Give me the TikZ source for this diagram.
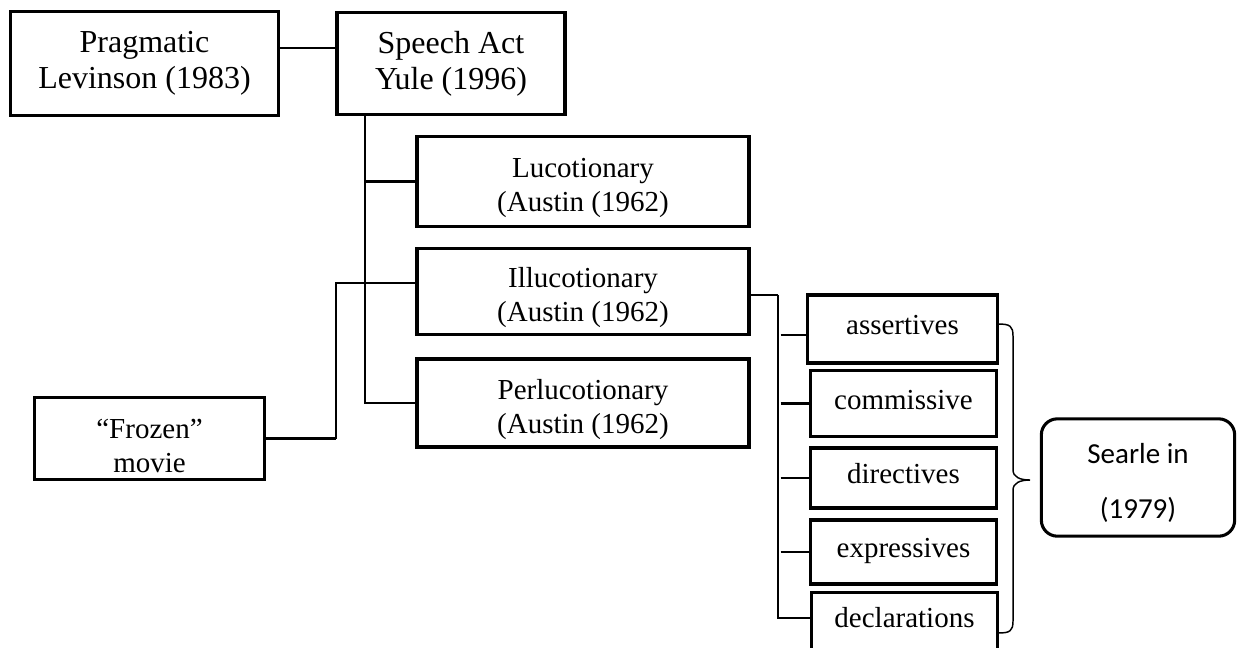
\documentclass[tikz,border=0pt]{standalone}
\usepackage{fontspec}
\setmainfont{Liberation Serif}
\newfontfamily\calibrifont{Carlito}
% strut that pushes the first line of a box down a little
\newcommand{\topstrut}[1]{\rule{0pt}{#1}}
\begin{document}
\begin{tikzpicture}[x=0.75pt, y=-0.75pt,
		bigbox/.style={draw, line width=2.3pt, inner sep=0pt, align=center, font=\fontsize{24}{27}\selectfont},
		actbox/.style={draw, line width=2.3pt, inner sep=0pt, align=center, minimum width=249pt,
			font=\fontsize{21.75}{25.5}\selectfont},
		typebox/.style={draw, line width=2.3pt, inner sep=0pt, align=center, text height=15pt, text depth=6.6pt,
			font=\fontsize{21.75}{25.5}\selectfont},
		thinline/.style={line width=1.1pt},
		trunk/.style={line width=1.4pt},
		branch/.style={line width=2.2pt}]
	\useasboundingbox (0,0) rectangle (1244,647);
	
	% top row
	\node[bigbox, minimum width=201pt, minimum height=78pt] (prag) at (144.5,63.5) {Pragmatic\\Levinson (1983)};
	\node[bigbox, minimum width=171pt, minimum height=77pt] (speech) at (451,63.5) {Speech Act\\Yule (1996)};
	
	% the three acts
	\node[actbox, minimum height=67pt] (luco) at (583,181.5) {\topstrut{24.5pt}Lucotionary\\(Austin (1962)};
	\node[actbox, minimum height=65pt] (illuco) at (583,291.5) {\topstrut{24.5pt}Illucotionary\\(Austin (1962)};
	\node[actbox, minimum height=66pt] (perluco) at (583,403) {\topstrut{24.5pt}Perlucotionary\\(Austin (1962)};
	
	\node[actbox, minimum width=172pt, minimum height=61pt] (frozen) at (149.5,438.5) {\topstrut{25.5pt}“Frozen”\\movie};
	
	% kinds of illocutionary acts
	\node[typebox, minimum width=142pt, minimum height=51pt] (assert) at (902.5,329) {assertives};
	\node[typebox, minimum width=140pt, minimum height=49pt] (commis) at (903.5,403.5) {commissive};
	\node[typebox, minimum width=140pt, minimum height=45pt] (direct) at (903.5,478) {directives};
	\node[typebox, minimum width=140pt, minimum height=48pt] (express) at (903.5,552) {expressives};
	\node[typebox, minimum width=139pt, minimum height=44pt] (declar) at (904.5,622) {declarations};
	
	\node[draw, line width=2.3pt, rounded corners=12pt, inner sep=0pt, align=center, minimum width=145pt, minimum height=88pt,
		font=\calibrifont\fontsize{21.75}{41.25}\selectfont] (searle) at (1138,477.5) {\topstrut{23.8pt}Searle in\\(1979)};
	
	% connectors
	\draw[thinline] ([yshift=11.6pt]prag.east) -- ([yshift=11.6pt]speech.west);
	
	\coordinate (trunktop) at ([xshift=22pt]speech.south west);
	\draw[trunk] (trunktop) |- (perluco.west);
	\draw[branch] (trunktop |- luco.west) -- (luco.west);
	
	\coordinate (ilin) at ([yshift=6.4pt]illuco.west);
	\draw[branch] (trunktop |- ilin) -- (ilin);
	\draw[branch] (frozen.east) -- ([xshift=-59.6pt]ilin |- frozen.east);
	\draw[trunk] ([xshift=-59.6pt]ilin |- frozen.east) -- ([xshift=-59.6pt]ilin) -- (trunktop |- ilin);
	
	\coordinate (illout) at ([yshift=-2.6pt]illuco.east);
	\coordinate (spine) at ([xshift=20.6pt]illout);
	\coordinate (assertin) at ([yshift=-4.5pt]assert.west);
	\coordinate (declarin) at ([yshift=3pt]declar.west);
	\draw[branch] (illout) -- (spine);
	\draw[trunk] (spine) |- (declarin);
	\foreach \n in {assertin,commis.west,direct.west,express.west,declarin}
		\draw[branch] ([xshift=2pt]spine |- \n) -- (\n);
	
	% brace
	\draw[thinline] (998,324) .. controls (1010,324) and (1013,326) .. (1013,336) -- (1013,470)
		.. controls (1013,477) and (1020,480) .. (1030,480)
		.. controls (1020,480) and (1013,483) .. (1013,490) -- (1013,621)
		.. controls (1013,631) and (1010,633) .. (998,633);
\end{tikzpicture}
\end{document}
